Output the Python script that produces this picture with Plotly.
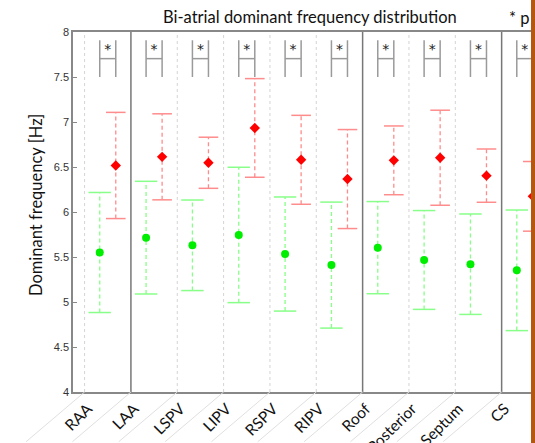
import plotly.graph_objects as go

categories = ["RAA", "LAA", "LSPV", "LIPV", "RSPV", "RIPV", "Roof", "Posterior", "Septum", "CS"]
green_mean = [5.55, 5.715, 5.63, 5.745, 5.533, 5.41, 5.604, 5.467, 5.42, 5.352]
green_std = [0.667, 0.626, 0.503, 0.752, 0.634, 0.70, 0.512, 0.549, 0.558, 0.67]
red_mean = [6.517, 6.613, 6.547, 6.934, 6.58, 6.366, 6.574, 6.603, 6.404, 6.174]
red_std = [0.59, 0.478, 0.284, 0.548, 0.494, 0.55, 0.382, 0.528, 0.296, 0.387]
significant = [True] * 10
y_ticks = [4, 4.5, 5, 5.5, 6, 6.5, 7, 7.5, 8]
group_separators = [0.5, 5.5, 8.5]
bracket_bottom, bracket_mid, bracket_top, star_level = 7.5, 7.704, 7.908, 7.80

OFF = 0.173
n = len(categories)
gx = [i - OFF for i in range(n)]
rx = [i + OFF for i in range(n)]

GREEN, GREEN_L = "#00ee00", "#88ff88"
RED, RED_L = "#ff0000", "#ff8c8c"

W, H = 535, 443
PLOT_L, PLOT_T, PLOT_B = 73, 32, 392          # page pixel coords
PLOT_W, PLOT_H = W - PLOT_L, PLOT_B - PLOT_T

fig = go.Figure()

def add_series(xs, mean, std, col, col_l, symbol, msize, capsize):
    lx, ly = [], []
    for x, m, s in zip(xs, mean, std):
        lx += [x, x, None]
        ly += [m - s, m + s, None]
    fig.add_trace(go.Scatter(x=lx, y=ly, mode="lines",
                             line=dict(color=col_l, width=1.3, dash="4px,3px"),
                             hoverinfo="skip", showlegend=False))
    caps_x = xs + xs
    caps_y = [m + s for m, s in zip(mean, std)] + [m - s for m, s in zip(mean, std)]
    fig.add_trace(go.Scatter(x=caps_x, y=caps_y, mode="markers",
                             marker=dict(symbol="line-ew", size=capsize,
                                         line=dict(color=col_l, width=1.5)),
                             hoverinfo="skip", showlegend=False))
    fig.add_trace(go.Scatter(x=xs, y=mean, mode="markers",
                             marker=dict(symbol=symbol, size=msize, color=col),
                             showlegend=False))

add_series(gx, green_mean, green_std, GREEN, GREEN_L, "circle", 8, 16)
add_series(rx, red_mean, red_std, RED, RED_L, "diamond", 8, 14)

bx, by = [], []
for i in range(n):
    if significant[i]:
        bx += [gx[i], gx[i], None, rx[i], rx[i], None, gx[i], rx[i], None]
        by += [bracket_bottom, bracket_top, None, bracket_bottom, bracket_top, None,
               bracket_mid, bracket_mid, None]
fig.add_trace(go.Scatter(x=bx, y=by, mode="lines", line=dict(color="#9a9a9a", width=1.5),
                         hoverinfo="skip", showlegend=False))
fig.add_trace(go.Scatter(x=[i for i in range(n) if significant[i]],
                         y=[star_level] * sum(significant), mode="text", text=["*"] * sum(significant),
                         textfont=dict(size=14, color="#222222", family="DejaVu Sans"),
                         textposition="middle center", hoverinfo="skip", showlegend=False))

shapes = []
boundaries = [i - 0.5 for i in range(n)]
for b in boundaries:
    if b in group_separators:
        continue
    shapes.append(dict(type="line", xref="x", yref="paper", x0=b, x1=b, y0=0, y1=1,
                       line=dict(color="#d4d4d4", width=1, dash="dot"), layer="below"))
for b in group_separators:
    shapes.append(dict(type="line", xref="x", yref="paper", x0=b, x1=b, y0=0, y1=1,
                       line=dict(color="#777777", width=1.5), layer="below"))

def px_x(p):
    return (p - PLOT_L) / PLOT_W

def px_y(p):
    return (PLOT_B - p) / PLOT_H

# orange edge bar at the right border of the picture
shapes.append(dict(type="rect", xref="paper", yref="paper", x0=px_x(531), x1=px_x(560),
                   y0=px_y(460), y1=px_y(-20), fillcolor="#b5570c",
                   line=dict(width=0), layer="above"))

annotations = []
for b in boundaries:
    annotations.append(dict(x=b, y=4, xref="x", yref="y", text="", showarrow=True,
                            arrowhead=0, arrowwidth=1, arrowcolor="#e0e0e0",
                            ax=-60, ay=60, standoff=0, startstandoff=0))
annotations.append(dict(x=px_x(310), y=px_y(17), xref="paper", yref="paper",
                        text="Bi-atrial dominant frequency distribution", showarrow=False,
                        font=dict(family="Lato", size=16.5, color="#111111"),
                        xanchor="center", yanchor="middle"))
annotations.append(dict(x=px_x(507), y=px_y(18), xref="paper", yref="paper",
                        text="* p", showarrow=False,
                        font=dict(family="Lato", size=16.5, color="#111111"),
                        xanchor="left", yanchor="middle"))
annotations.append(dict(x=px_x(36), y=px_y(205), xref="paper", yref="paper",
                        text="Dominant frequency [Hz]", showarrow=False, textangle=-90,
                        font=dict(family="Lato", size=16.5, color="#111111"),
                        xanchor="center", yanchor="middle"))

fig.update_layout(
    width=W, height=H,
    margin=dict(l=PLOT_L, r=W - PLOT_L - PLOT_W, t=PLOT_T, b=H - PLOT_B, pad=0,
                autoexpand=False),
    paper_bgcolor="white", plot_bgcolor="white",
    shapes=shapes, annotations=annotations,
    xaxis=dict(range=[-0.75, 9.22], tickvals=list(range(n)), ticktext=categories,
               tickangle=-45, showgrid=False, zeroline=False, automargin=False,
               showline=True, linecolor="#888888", linewidth=1.5, mirror=True,
               ticks="", ticklabelshift=-20, ticklabelstandoff=0,
               tickfont=dict(family="Lato", size=15.5, color="#111111")),
    yaxis=dict(range=[4, 8], tickvals=y_ticks, ticktext=[f"{v:g}" for v in y_ticks],
               showgrid=False, zeroline=False, showline=True, linecolor="#888888",
               linewidth=1.5, mirror=True, ticks="inside", ticklen=4, tickcolor="#888888",
               automargin=False,
               tickfont=dict(family="Liberation Sans", size=11, color="#333333")),
)

# remove the default page margin so the 535x443 figure fills the window exactly
fig.write_html("out.html",
               config={"displayModeBar": False},
               post_script="document.body.style.margin='0';"
                           "document.documentElement.style.overflow='hidden';")
